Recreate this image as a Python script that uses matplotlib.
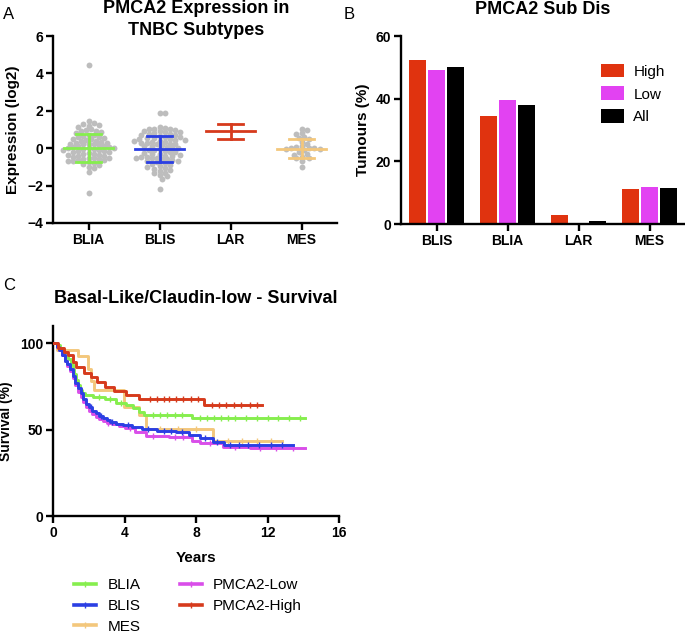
import numpy as np
import matplotlib
matplotlib.use('Agg')
import matplotlib.pyplot as plt
from matplotlib.lines import Line2D

plt.rcParams['font.family'] = ['Liberation Sans', 'DejaVu Sans']

# ---- panel A data ----
subtypes_a = ['BLIA', 'BLIS', 'LAR', 'MES']
blia_expr = [4.45,
             1.45, 1.35, 1.3, 1.25, 1.2, 1.15,
             1.0, 0.95, 0.9, 0.9, 0.85, 0.8,
             0.7, 0.7, 0.65, 0.6, 0.6, 0.55, 0.5, 0.5,
             0.45, 0.4, 0.4, 0.35, 0.3, 0.3, 0.25, 0.25, 0.2, 0.2,
             0.15, 0.1, 0.1, 0.05, 0.05, 0.0, 0.0, 0.0,
             -0.05, -0.05, -0.1, -0.1, -0.15, -0.15, -0.2, -0.2, -0.25,
             -0.3, -0.3, -0.35, -0.35, -0.4, -0.4, -0.45, -0.5, -0.5,
             -0.55, -0.6, -0.6, -0.65, -0.65, -0.7, -0.7, -0.75,
             -0.8, -0.85, -0.9, -1.0, -1.05, -1.25,
             -2.4]
blis_expr = [1.9, 1.9,
             1.15, 1.1, 1.05, 1.0, 1.0, 0.95, 0.9, 0.9, 0.85, 0.85,
             0.8, 0.75, 0.75, 0.7, 0.7, 0.65, 0.6, 0.6, 0.55, 0.55, 0.5, 0.5,
             0.45, 0.45, 0.4, 0.4, 0.35, 0.35, 0.3, 0.3, 0.25, 0.2, 0.2,
             0.15, 0.1, 0.1, 0.05, 0.0, 0.0, -0.05, -0.1, -0.1,
             -0.15, -0.2, -0.2, -0.25, -0.3, -0.3, -0.35, -0.4, -0.4,
             -0.45, -0.45, -0.5, -0.5, -0.55, -0.6, -0.6, -0.65, -0.7, -0.7,
             -0.75, -0.8, -0.85, -0.9, -0.95, -1.0, -1.05, -1.1, -1.15, -1.2,
             -1.3, -1.35, -1.45, -1.5, -1.65,
             -2.2]
lar_expr = []
mes_expr = [1.05, 0.95, 0.8, 0.75, 0.6, 0.55, 0.5, 0.35, 0.2, 0.1, 0.05, 0.0, 0.0, 0.0,
            -0.05, -0.05, -0.1, -0.2, -0.3, -0.35, -0.45, -0.5, -0.55, -0.7, -1.0]
expr_mean = [0.0, -0.05, 0.9, -0.02]
expr_sd = [0.75, 0.68, 0.42, 0.5]
colors_a = ['#86EE4E', '#2B3FE3', '#D63A1C', '#F3C77C']

# ---- panel B data ----
subtypes_b = ['BLIS', 'BLIA', 'LAR', 'MES']
pct_high = [52.3, 34.5, 3.0, 11.2]
pct_low = [49.2, 39.7, 0.0, 11.7]
pct_all = [50.1, 38.0, 1.1, 11.5]

# ---- panel C data (Kaplan-Meier steps) ----
km_blia_t = [0, 0.2, 0.4, 0.55, 0.7, 0.85, 1.0, 1.1, 1.2, 1.3, 1.4, 1.5, 1.6, 1.8, 2.25, 2.9,
             3.5, 4.1, 4.5, 4.8, 5.1, 7.8, 14.1]
km_blia_s = [100, 99, 97, 95, 93, 91, 88, 85, 82, 79, 76, 73, 71, 70, 69, 67.5,
             65.5, 64.5, 62.5, 60.5, 58.5, 56.5, 56.5]
km_blis_t = [0, 0.2, 0.35, 0.5, 0.65, 0.8, 0.95, 1.1, 1.25, 1.4, 1.55, 1.7, 1.85, 2.0, 2.2,
             2.4, 2.6, 2.8, 3.0, 3.2, 3.5, 3.9, 4.4, 5.0, 5.8, 6.9, 7.6, 8.2, 8.95, 9.55, 13.4]
km_blis_s = [100, 98, 96, 93, 90, 88, 85, 81, 77, 74, 71, 68, 65, 63, 61,
             59.5, 58, 56.5, 55.5, 54.5, 53.5, 52.5, 51.5, 50.5, 49.5, 48.5, 47, 45, 43, 41, 41]
km_mes_t = [0, 0.2, 1.4, 1.95, 2.1, 2.3, 3.95, 4.8, 5.2, 8.95, 12.8]
km_mes_s = [100, 96, 92.5, 85, 78, 73, 63, 58.5, 50.5, 43.5, 43.5]
km_low_t = [0, 0.2, 0.35, 0.5, 0.65, 0.8, 0.95, 1.1, 1.25, 1.4, 1.55, 1.7, 1.85, 2.0, 2.2,
            2.4, 2.6, 2.8, 3.0, 3.3, 3.7, 4.0, 4.6, 5.2, 6.5, 7.8, 8.2, 9.5, 11.0, 14.1]
km_low_s = [100, 98, 96, 93, 90, 87, 84, 80, 76, 72, 69, 66, 63, 61, 59,
            57.5, 56, 55, 54, 53, 52, 51, 48.5, 46.5, 45.5, 43.5, 42.5, 40, 39.5, 39.5]
km_high_t = [0, 0.3, 0.6, 0.85, 1.1, 1.3, 1.75, 2.1, 2.45, 2.9, 3.4, 4.1, 4.8, 8.45, 11.7]
km_high_s = [100, 97, 95, 93, 89, 86, 83, 80.5, 77.5, 74.5, 72.5, 70, 68, 64, 64]
cens_blia = [2.6, 3.2, 3.8, 5.6, 6.0, 6.4, 6.8, 7.2, 8.2, 8.6, 9.0, 9.4, 9.8, 10.2, 10.8, 11.4,
             12.0, 12.6, 13.2, 13.8]
cens_blis = [2.1, 2.7, 3.3, 4.2, 5.3, 6.2, 6.6, 7.2, 8.5, 9.2, 9.9, 10.4, 10.9, 11.5, 12.2, 12.8]
cens_mes = [6.0, 7.0, 8.0, 9.8, 10.6, 11.4, 12.2]
cens_low = [3.1, 4.3, 5.6, 6.8, 7.3, 8.8, 10.2, 11.6, 12.5, 13.4]
cens_high = [5.4, 5.8, 6.2, 6.5, 6.9, 7.3, 7.7, 8.1, 8.9, 9.3, 9.7, 10.1, 10.5, 11.0, 11.4]


def style(ax):
    for s in ['top', 'right']:
        ax.spines[s].set_visible(False)
    for s in ['left', 'bottom']:
        ax.spines[s].set_linewidth(1.7)
    ax.tick_params(width=1.7, length=5, labelsize=10, pad=2)
    for lab in ax.get_xticklabels() + ax.get_yticklabels():
        lab.set_fontweight('bold')


def swarm(vals, d, ypx, xpx):
    # simple beeswarm layout in pixel space (dots may overlap a little)
    xs = []
    placed = []
    for v in vals:
        y = v * ypx
        k = 0
        while True:
            off = ((k + 1) // 2) * (d * 0.48) * (1 if k % 2 else -1)
            ok = True
            for (px, py) in placed:
                if (px - off) ** 2 + (py - y) ** 2 < d * d * 0.65:
                    ok = False
                    break
            if ok:
                break
            k += 1
        placed.append((off, y))
        xs.append(off / xpx)
    return np.array(xs)


fig = plt.figure(figsize=(6.85, 6.35), dpi=100)
W, H = 685.0, 635.0

# ================= A =================
axA = fig.add_axes([53 / W, 1 - 223 / H, 284 / W, 187 / H])
groups = [blia_expr, blis_expr, lar_expr, mes_expr]
ypx = 187 / 10.0
xpx = 284 / 4.0
for i, g in enumerate(groups):
    if len(g) == 0:
        continue
    xs = swarm(g, 5.4, ypx, xpx)
    axA.scatter(i + xs, g, s=18, color='#BDBDBD', linewidths=0, zorder=2)
for i in range(4):
    m, sd, c = expr_mean[i], expr_sd[i], colors_a[i]
    axA.plot([i - 0.34, i + 0.34], [m, m], color=c, lw=2, zorder=3)
    axA.plot([i, i], [m - sd, m + sd], color=c, lw=2, zorder=3)
    axA.plot([i - 0.18, i + 0.18], [m + sd, m + sd], color=c, lw=2, zorder=3)
    axA.plot([i - 0.18, i + 0.18], [m - sd, m - sd], color=c, lw=2, zorder=3)
axA.set_xlim(-0.5, 3.5)
axA.set_ylim(-4, 6)
axA.set_yticks([-4, -2, 0, 2, 4, 6])
axA.set_xticks(range(4))
axA.set_xticklabels(subtypes_a)
axA.set_ylabel('Expression (log2)', fontsize=11, fontweight='bold', labelpad=5)
style(axA)
fig.text(196 / W, 1 - 13 / H, 'PMCA2 Expression in', ha='center', va='baseline',
         fontsize=13, fontweight='bold')
fig.text(196 / W, 1 - 35 / H, 'TNBC Subtypes', ha='center', va='baseline',
         fontsize=13, fontweight='bold')

# ================= B =================
axB = fig.add_axes([401 / W, 1 - 224 / H, 284 / W, 188 / H])
xb = np.arange(4)
bw = 0.235
pitch = 0.265
axB.bar(xb - pitch, pct_high, bw, color='#E0330F', label='High')
axB.bar(xb, pct_low, bw, color='#E242F2', label='Low')
axB.bar(xb + pitch, pct_all, bw, color='black', label='All')
axB.set_xlim(-0.5, 3.5)
axB.set_ylim(0, 60)
axB.set_yticks([0, 20, 40, 60])
axB.set_xticks(xb)
axB.set_xticklabels(subtypes_b)
axB.set_ylabel('Tumours (%)', fontsize=11, fontweight='bold', labelpad=4)
style(axB)
axB.legend(loc='upper left', bbox_to_anchor=(0.684, 0.885), frameon=False, fontsize=11,
           handlelength=1.45, handleheight=1.0, handletextpad=0.65, labelspacing=0.5,
           borderaxespad=0)
fig.text(543 / W, 1 - 13.5 / H, 'PMCA2 Sub Dis', ha='center', va='baseline',
         fontsize=13, fontweight='bold')

# ================= C =================
axC = fig.add_axes([53 / W, 1 - 516 / H, 286 / W, 190 / H])
curves = [
    ('BLIA', km_blia_t, km_blia_s, cens_blia, '#86EE4E'),
    ('BLIS', km_blis_t, km_blis_s, cens_blis, '#2B3FE3'),
    ('MES', km_mes_t, km_mes_s, cens_mes, '#F3C77C'),
    ('PMCA2-Low', km_low_t, km_low_s, cens_low, '#D94EE9'),
    ('PMCA2-High', km_high_t, km_high_s, cens_high, '#D63A1C'),
]
order_z = {'MES': 2, 'BLIA': 3, 'PMCA2-Low': 4, 'BLIS': 5, 'PMCA2-High': 6}
handles = []
for name, t, s, cens, c in curves:
    axC.plot(t, s, drawstyle='steps-post', color=c, lw=2.1, zorder=order_z[name])
    ct = np.array(cens)
    idx = np.searchsorted(np.array(t), ct, side='right') - 1
    cs = np.array(s)[idx]
    axC.plot(ct, cs, linestyle='none', marker='|', markersize=4, markeredgewidth=1,
             color=c, zorder=order_z[name])
    handles.append(Line2D([], [], color=c, lw=2.6, marker='|', markersize=4,
                          markeredgewidth=1, label=name))
axC.set_xlim(0, 16)
axC.set_ylim(0, 110)
axC.set_xticks([0, 4, 8, 12, 16])
axC.set_yticks([0, 50, 100])
axC.set_xlabel('Years', fontsize=11, fontweight='bold', labelpad=8)
axC.set_ylabel('Survival (%)', fontsize=10, fontweight='bold', labelpad=5)
style(axC)
fig.legend(handles=handles, ncol=2, loc='upper left', bbox_to_anchor=(74 / W, 1 - 578 / H),
           frameon=False, fontsize=11, handlelength=1.45, handletextpad=0.75,
           columnspacing=2.55, labelspacing=0.45, borderaxespad=0, borderpad=0)
fig.text(196 / W, 1 - 303 / H, 'Basal-Like/Claudin-low - Survival', ha='center',
         va='baseline', fontsize=13, fontweight='bold')

# panel letters
fig.text(3 / W, 1 - 19 / H, 'A', fontsize=12, va='baseline')
fig.text(344 / W, 1 - 19 / H, 'B', fontsize=12, va='baseline')
fig.text(3 / W, 1 - 290 / H, 'C', fontsize=12, va='baseline')

fig.savefig('out.png', dpi=100)
